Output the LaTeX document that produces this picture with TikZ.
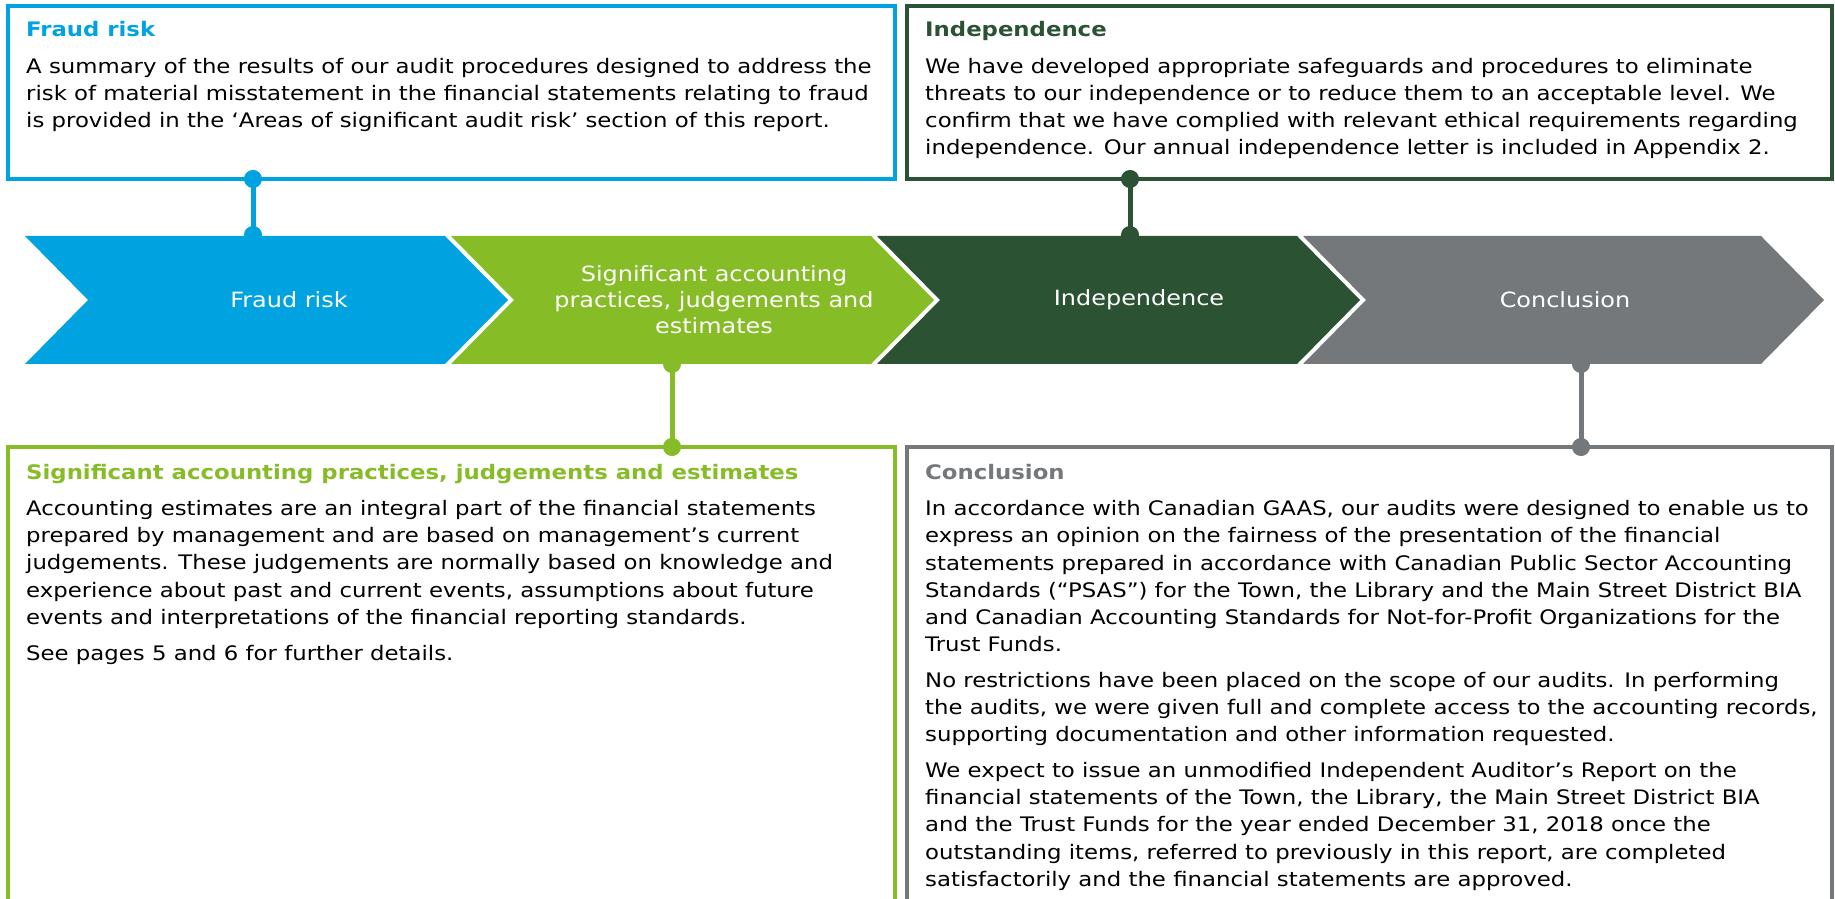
\documentclass[tikz,border=0pt]{standalone}
\usepackage{fontspec}
\setmainfont[FakeStretch=1.14]{DejaVu Sans}
\usetikzlibrary{positioning,calc,arrows.meta}

\definecolor{fraudblue}{HTML}{00A3E0}
\definecolor{siggreen}{HTML}{86BC25}
\definecolor{inddark}{HTML}{2C5234}
\definecolor{congrey}{HTML}{75787B}

\newcommand{\bodyfont}{\fontsize{20}{27.2}\selectfont}
\newcommand{\chevfont}{\fontsize{21}{26}\selectfont}

\begin{document}
\begin{tikzpicture}[
    x=1pt, y=1pt,
    infobox/.style   = {draw=#1, line width=4pt, outer sep=0pt, inner sep=0pt},
    boxtext/.style   = {anchor=north west, inner sep=0pt, align=left, font=\bodyfont},
    chevlabel/.style = {text=white, align=center, inner sep=0pt, font=\chevfont},
    pinline/.style   = {draw=#1, line width=5pt, {Circle[length=18pt]}-{Circle[length=18pt]},
                        shorten <=-9pt, shorten >=-9pt}
]
\useasboundingbox (0,0) rectangle (1835,898);
\clip (0,0) rectangle (1835,898);

% =========================================================
% CHEVRONS
% =========================================================
\foreach \x/\w/\c in {25/420/fraudblue, 451/420/siggreen, 877/420/inddark, 1303/458/congrey}
  \fill[\c] (\x,662) -- ++(\w,0) -- ++(63,-64) -- ++(-63,-64) -- ++(-\w,0) -- ++(63,64) -- cycle;

\node[chevlabel] (fraudlbl) at (289,598) {Fraud risk};
\node[chevlabel] (siglbl)   at (714,598) {Significant accounting\\practices, judgements and\\estimates};
\node[chevlabel] (indlbl)   at (1139,598) {Independence};
\node[chevlabel] (conlbl)   at (1565,598) {Conclusion};

\coordinate (fraudpin) at (253,663);
\coordinate (sigpin)   at (672,534);
\coordinate (indpin)   at (1130,663);
\coordinate (conpin)   at (1581,534);

% =========================================================
% FRAUD RISK
% =========================================================
\node[infobox=fraudblue, minimum width=887, minimum height=173] (fraudbox) at (451.5,805.5) {};
\node[boxtext] (fraudtxt) at ($(fraudbox.north west)+(18,-15)$)
  {{\bfseries\color{fraudblue}Fraud risk}\\[9.5pt]
   A summary of the results of our audit procedures designed to address the\\
   risk of material misstatement in the financial statements relating to fraud\\
   is provided in the ‘Areas of significant audit risk’ section of this report.};

% =========================================================
% INDEPENDENCE
% =========================================================
\node[infobox=inddark, minimum width=925, minimum height=173] (indbox) at (1369.5,805.5) {};
\node[boxtext] (indtxt) at ($(indbox.north west)+(18,-15)$)
  {{\bfseries\color{inddark}Independence}\\[9.5pt]
   We have developed appropriate safeguards and procedures to eliminate\\
   threats to our independence or to reduce them to an acceptable level. We\\
   confirm that we have complied with relevant ethical requirements regarding\\
   independence. Our annual independence letter is included in Appendix 2.};

% =========================================================
% SIGNIFICANT ACCOUNTING PRACTICES
% =========================================================
\node[infobox=siggreen, minimum width=887, minimum height=471] (sigbox) at (451.5,215.5) {};
\node[boxtext] (sigtxt) at ($(sigbox.north west)+(18,-17)$)
  {{\bfseries\color{siggreen}Significant accounting practices, judgements and estimates}\\[9pt]
   Accounting estimates are an integral part of the financial statements\\
   prepared by management and are based on management’s current\\
   judgements. These judgements are normally based on knowledge and\\
   experience about past and current events, assumptions about future\\
   events and interpretations of the financial reporting standards.\\[8.5pt]
   See pages 5 and 6 for further details.};

% =========================================================
% CONCLUSION
% =========================================================
\node[infobox=congrey, minimum width=925, minimum height=471] (conbox) at (1369.5,215.5) {};
\node[boxtext] (contxt) at ($(conbox.north west)+(18,-17)$)
  {{\bfseries\color{congrey}Conclusion}\\[9pt]
   In accordance with Canadian GAAS, our audits were designed to enable us to\\
   express an opinion on the fairness of the presentation of the financial\\
   statements prepared in accordance with Canadian Public Sector Accounting\\
   Standards (“PSAS”) for the Town, the Library and the Main Street District BIA\\
   and Canadian Accounting Standards for Not-for-Profit Organizations for the\\
   Trust Funds.\\[8.5pt]
   No restrictions have been placed on the scope of our audits. In performing\\
   the audits, we were given full and complete access to the accounting records,\\
   supporting documentation and other information requested.\\[8.5pt]
   We expect to issue an unmodified Independent Auditor’s Report on the\\
   financial statements of the Town, the Library, the Main Street District BIA\\
   and the Trust Funds for the year ended December 31, 2018 once the\\
   outstanding items, referred to previously in this report, are completed\\
   satisfactorily and the financial statements are approved.};

% =========================================================
% PINS
% =========================================================
\path
  ($(fraudbox.south west)+(245,0)$) edge[pinline=fraudblue] (fraudpin)
  (sigpin) edge[pinline=siggreen] ($(sigbox.north west)+(664,0)$)
  ($(indbox.south west)+(223,0)$)   edge[pinline=inddark] (indpin)
  (conpin) edge[pinline=congrey] ($(conbox.north west)+(674,0)$);

\end{tikzpicture}
\end{document}
